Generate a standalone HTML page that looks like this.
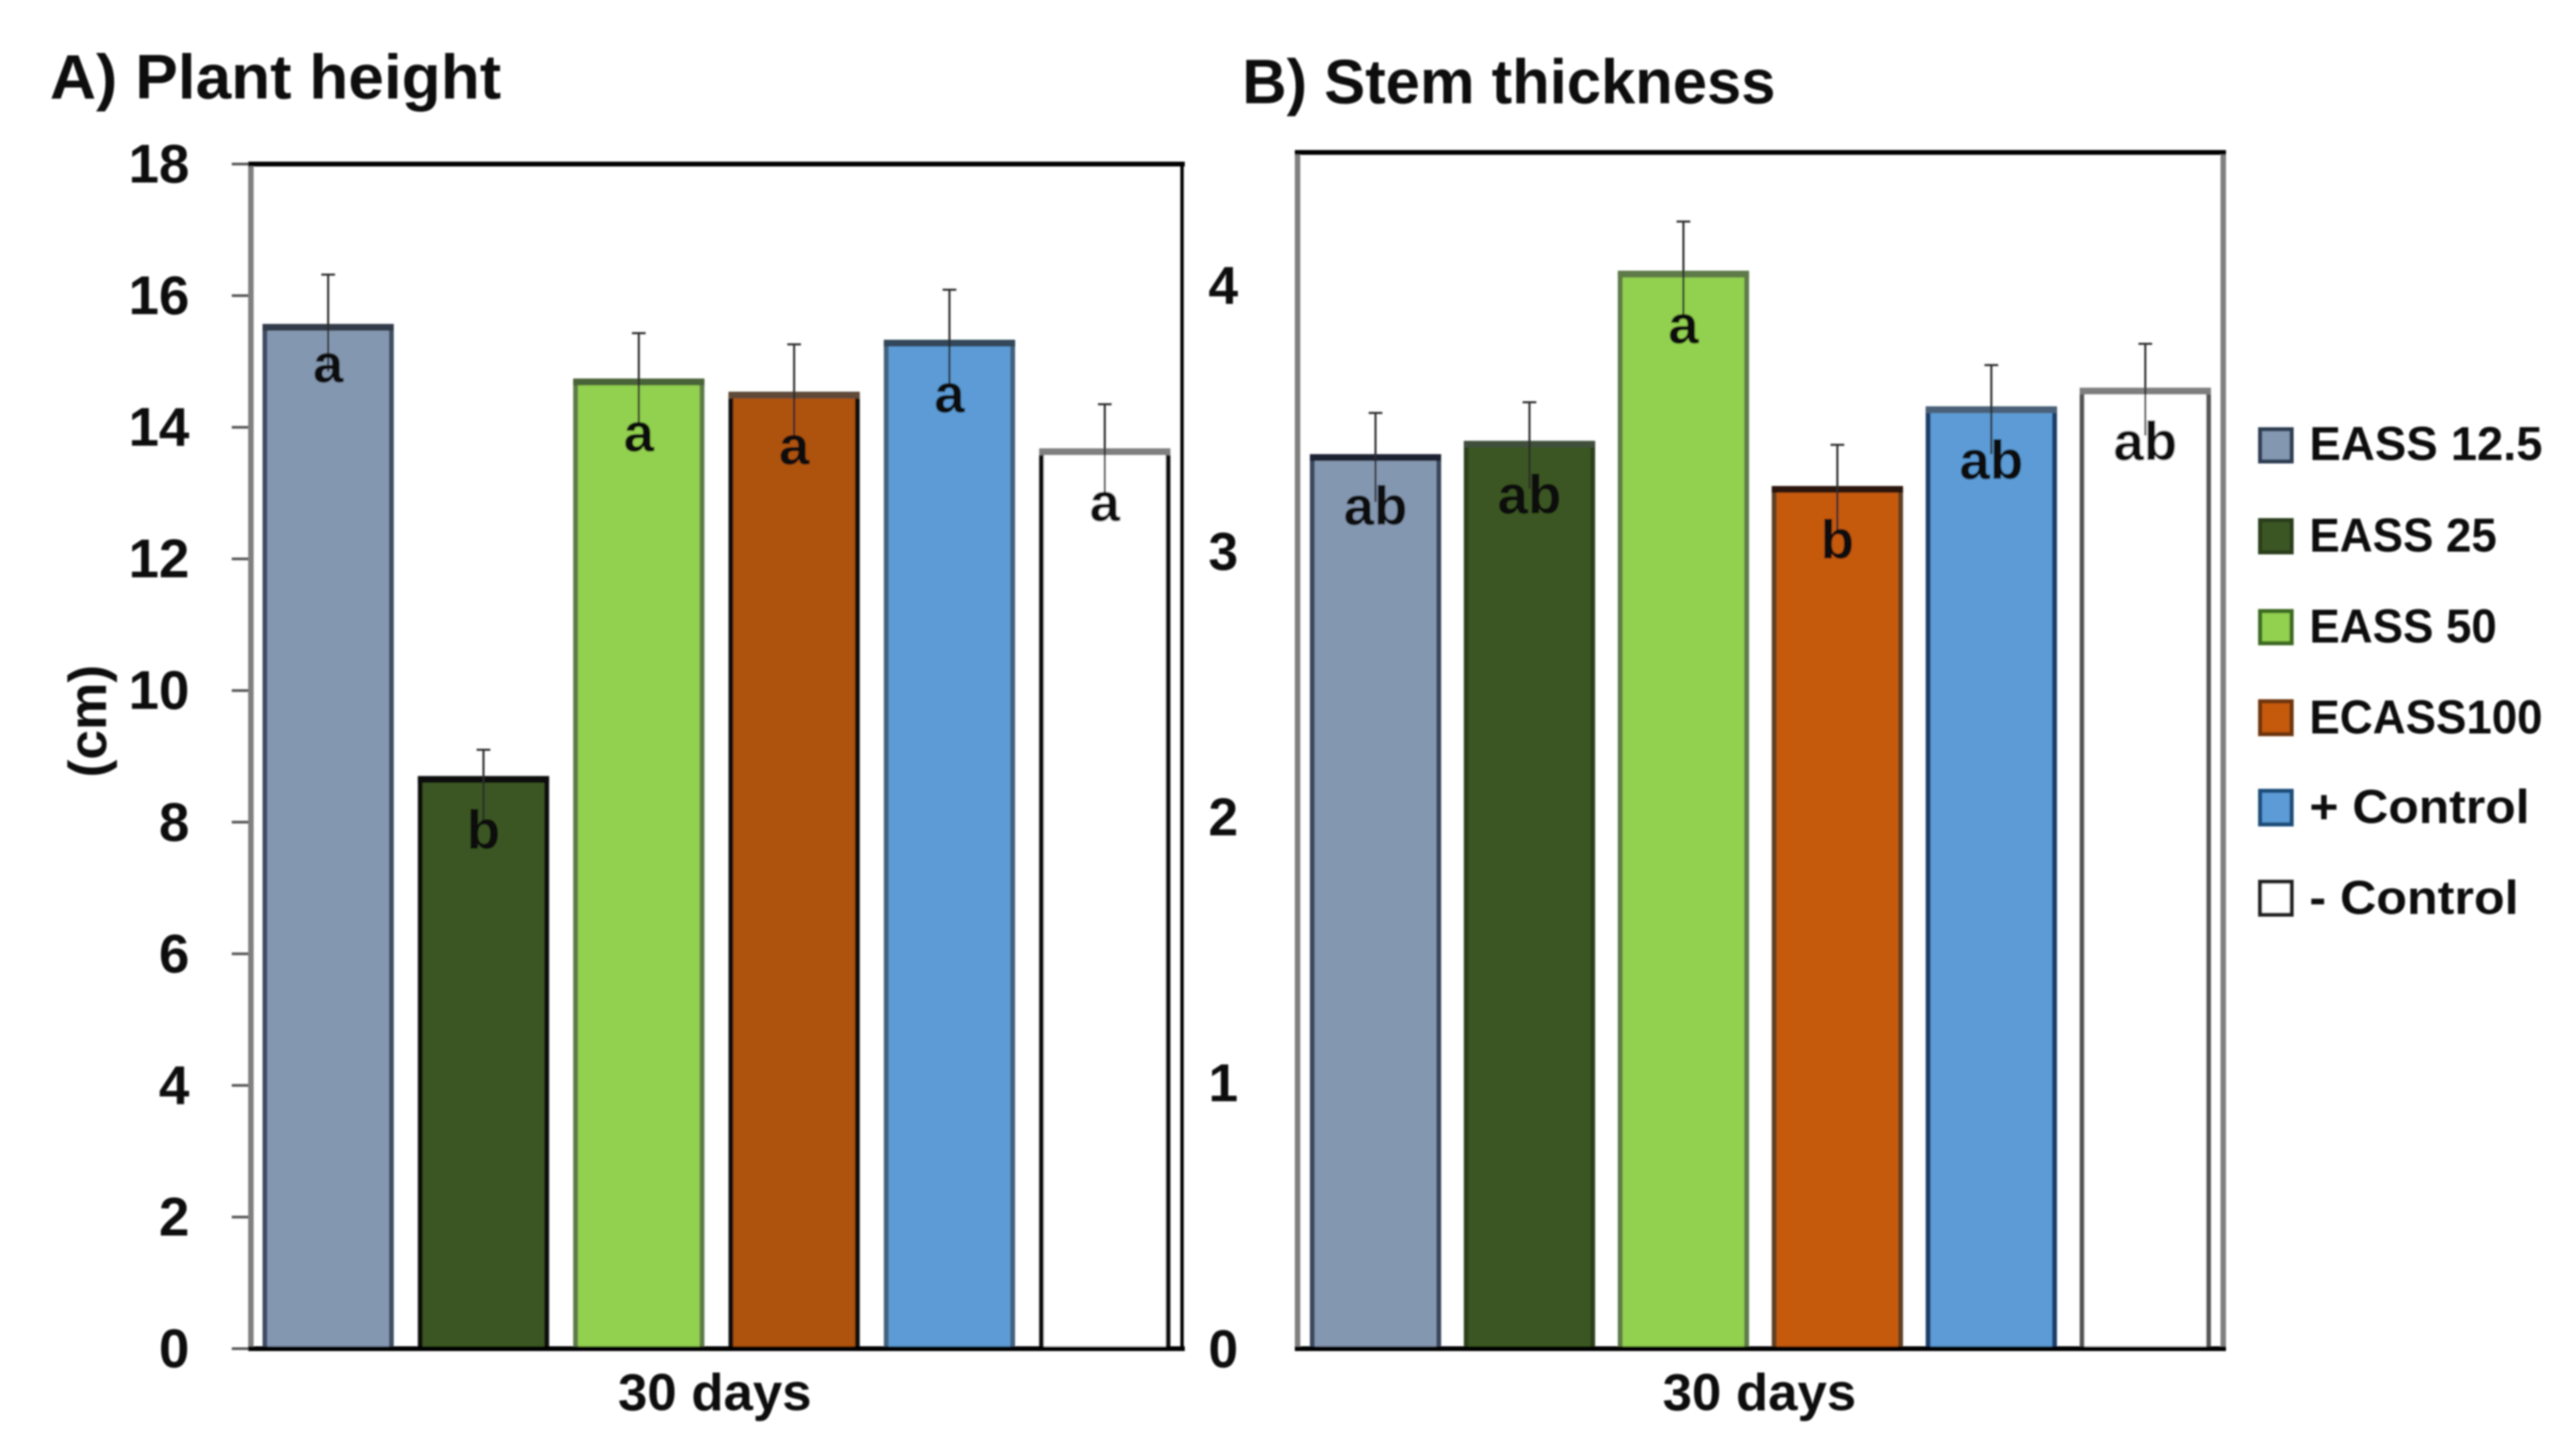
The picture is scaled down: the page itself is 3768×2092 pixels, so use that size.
<!DOCTYPE html>
<html lang="en">
<head>
<meta charset="utf-8">
<title>Plant height and stem thickness at 30 days</title>
<style>
  html, body { margin: 0; padding: 0; background: #fff; }
  svg { display: block; }
  text { font-family: "Liberation Sans", sans-serif; font-weight: bold; fill: #0a0a0a; }
</style>
</head>
<body>
<svg id="figure" xmlns="http://www.w3.org/2000/svg" width="3768" height="2092" viewBox="0 0 3768 2092">
  <defs>
    <filter id="soft" x="-2%" y="-2%" width="104%" height="104%"><feGaussianBlur stdDeviation="1.3"/></filter>
  </defs>
  <rect width="3768" height="2092" fill="#ffffff"/>
  <g id="root" filter="url(#soft)">
    <text x="73" y="144" font-size="92" textLength="660" lengthAdjust="spacingAndGlyphs">A) Plant height</text>
    <text x="1817" y="151" font-size="92" textLength="780" lengthAdjust="spacingAndGlyphs">B) Stem thickness</text>
    <text transform="translate(155,1055) rotate(-90)" text-anchor="middle" font-size="78">(cm)</text>
    <text x="904" y="2063" font-size="76" textLength="283" lengthAdjust="spacingAndGlyphs">30 days</text>
    <text x="2432" y="2063" font-size="76" textLength="283" lengthAdjust="spacingAndGlyphs">30 days</text>

    <g id="panel-a"></g>
    <g id="panel-b"></g>

    <g>
      <g>
        <rect x="3306" y="628" width="46" height="47" fill="#8497b0" stroke="#2f3d52" stroke-width="6"/>
        <text x="3378" y="673" font-size="70" textLength="341" lengthAdjust="spacingAndGlyphs">EASS 12.5</text>
      </g>
      <g>
        <rect x="3306" y="761" width="46" height="47" fill="#3b5722" stroke="#2a3d1a" stroke-width="6"/>
        <text x="3378" y="807" font-size="70" textLength="274" lengthAdjust="spacingAndGlyphs">EASS 25</text>
      </g>
      <g>
        <rect x="3306" y="894" width="46" height="47" fill="#92d050" stroke="#3d6b22" stroke-width="6"/>
        <text x="3378" y="940" font-size="70" textLength="274" lengthAdjust="spacingAndGlyphs">EASS 50</text>
      </g>
      <g>
        <rect x="3306" y="1026" width="46" height="48" fill="#c55a11" stroke="#6e3410" stroke-width="6"/>
        <text x="3378" y="1073" font-size="70" textLength="341" lengthAdjust="spacingAndGlyphs">ECASS100</text>
      </g>
      <g>
        <rect x="3306" y="1157" width="46" height="49" fill="#5b9bd5" stroke="#1f4e79" stroke-width="6"/>
        <text x="3378" y="1204" font-size="70" textLength="322" lengthAdjust="spacingAndGlyphs">+ Control</text>
      </g>
      <g>
        <rect x="3306" y="1290" width="46" height="48" fill="#ffffff" stroke="#222222" stroke-width="6"/>
        <text x="3378" y="1337" font-size="70" textLength="306" lengthAdjust="spacingAndGlyphs">- Control</text>
      </g>
    </g>
  </g>
</svg>
<script>
const categories = ["eass-12-5", "eass-25", "eass-50", "ecass100", "positive-control", "negative-control"];

const heightValues = [15.55, 8.68, 14.72, 14.52, 15.31, 13.66];
const heightErrors = [0.77, 0.42, 0.71, 0.74, 0.78, 0.69];
const heightLetters = ["a", "b", "a", "a", "a", "a"];
const heightTicks = [0, 2, 4, 6, 8, 10, 12, 14, 16, 18];

const thicknessValues = [3.36, 3.41, 4.05, 3.24, 3.54, 3.61];
const thicknessErrors = [0.16, 0.15, 0.19, 0.16, 0.16, 0.17];
const thicknessLetters = ["ab", "ab", "a", "b", "ab", "ab"];
const thicknessTicks = [0, 1, 2, 3, 4];

const SVG_NS = "http://www.w3.org/2000/svg";

function mk(parent, tag, attrs, text) {
  const el = document.createElementNS(SVG_NS, tag);
  for (const key in attrs) el.setAttribute(key, attrs[key]);
  if (text !== undefined) el.textContent = text;
  parent.appendChild(el);
  return el;
}

function drawPanel(cfg) {
  const parent = document.getElementById(cfg.id);
  const yScale = v => cfg.bottom - (v / cfg.max) * (cfg.bottom - cfg.top);
  const step = (cfg.right - cfg.left - 2 * cfg.pad) / (cfg.values.length - 1);
  const xScale = i => cfg.left + cfg.pad + i * step;
  const barWidth = 185;

  cfg.ticks.forEach(t => {
    const y = yScale(t);
    if (cfg.tickMarks) {
      const tick = mk(parent, "line", { x1: cfg.left - 28, x2: cfg.left, y1: y, y2: y, stroke: "#595959", "stroke-width": 4 });
      
      
    }
    const label = mk(parent, "text", { x: cfg.labelX, y: y + 27, "text-anchor": "end", "font-size": cfg.labelSize }, String(t));
    
    
  });

  cfg.values.forEach((v, i) => {
    const cx = xScale(i);
    const top = yScale(v);
    const bar = mk(parent, "rect", {
      x: cx - barWidth / 2, y: top + 3, width: barWidth, height: Math.max(0, cfg.bottom - top - 3),
      fill: cfg.fills[i], stroke: cfg.strokes[i], "stroke-width": 7
    });
    
    

    const topEdge = mk(parent, "line", {
      x1: cx - barWidth / 2 - 3.5, x2: cx + barWidth / 2 + 3.5, y1: top + 3, y2: top + 3,
      stroke: cfg.topEdges[i], "stroke-width": 10
    });
    
    

    const errTop = yScale(v + cfg.errors[i]);
    const stem = mk(parent, "line", { x1: cx, x2: cx, y1: errTop, y2: top + 68, stroke: "#2a2a2a", "stroke-width": 3 });
    
    
    const cap = mk(parent, "line", { x1: cx - 10, x2: cx + 10, y1: errTop, y2: errTop, stroke: "#2a2a2a", "stroke-width": 3 });
    
    

    const letterY = top + (i === 0 ? cfg.firstLetterDrop : cfg.letterDrop);
    const letter = mk(parent, "text", { x: cx, y: letterY, "text-anchor": "middle", "font-size": 80 }, cfg.letters[i]);
    
    
  });

  const frame = [
    ["left", cfg.left, cfg.top, cfg.left, cfg.bottom, "#7f7f7f", 8],
    ["right", cfg.right, cfg.top, cfg.right, cfg.bottom, cfg.rightColor, cfg.rightWidth],
    ["top", cfg.left - 4, cfg.top, cfg.right + 4, cfg.top, "#000000", 7],
    ["bottom", cfg.left - 4, cfg.bottom, cfg.right + 4, cfg.bottom, "#000000", 7]
  ];
  frame.forEach(f => {
    const edge = mk(parent, "line", { x1: f[1], y1: f[2], x2: f[3], y2: f[4], stroke: f[5], "stroke-width": f[6] });
    
    
  });
}

drawPanel({
  id: "panel-a", left: 367, right: 1729, top: 240, bottom: 1973, max: 18, pad: 113,
  labelX: 277, labelSize: 80, tickMarks: true, rightColor: "#000000", rightWidth: 5,
  letterDrop: 104, firstLetterDrop: 83,
  values: heightValues, errors: heightErrors, letters: heightLetters, ticks: heightTicks,
  fills: ["#8497b0", "#3b5722", "#92d050", "#ae5210", "#5b9bd5", "#ffffff"],
  strokes: ["#3f4d63", "#0d0d0d", "#5f7a4a", "#101010", "#44617c", "#111111"],
  topEdges: ["#333a48", "#0d0d0d", "#4a6339", "#5e4a38", "#33465a", "#7f7f7f"]
});

drawPanel({
  id: "panel-b", left: 1898, right: 3252, top: 223, bottom: 1973, max: 4.5, pad: 114,
  labelX: 1811, labelSize: 78, tickMarks: false, rightColor: "#7f7f7f", rightWidth: 8,
  letterDrop: 104, firstLetterDrop: 101,
  values: thicknessValues, errors: thicknessErrors, letters: thicknessLetters, ticks: thicknessTicks,
  fills: ["#8497b0", "#3b5722", "#92d050", "#c55a11", "#5b9bd5", "#ffffff"],
  strokes: ["#3a475c", "#2c3f1c", "#5f7a4a", "#5e4020", "#1c3d66", "#555555"],
  topEdges: ["#1a2230", "#3f4f3a", "#5f7a4a", "#2a1608", "#4a6078", "#7f7f7f"]
});
</script>
</body>
</html>
